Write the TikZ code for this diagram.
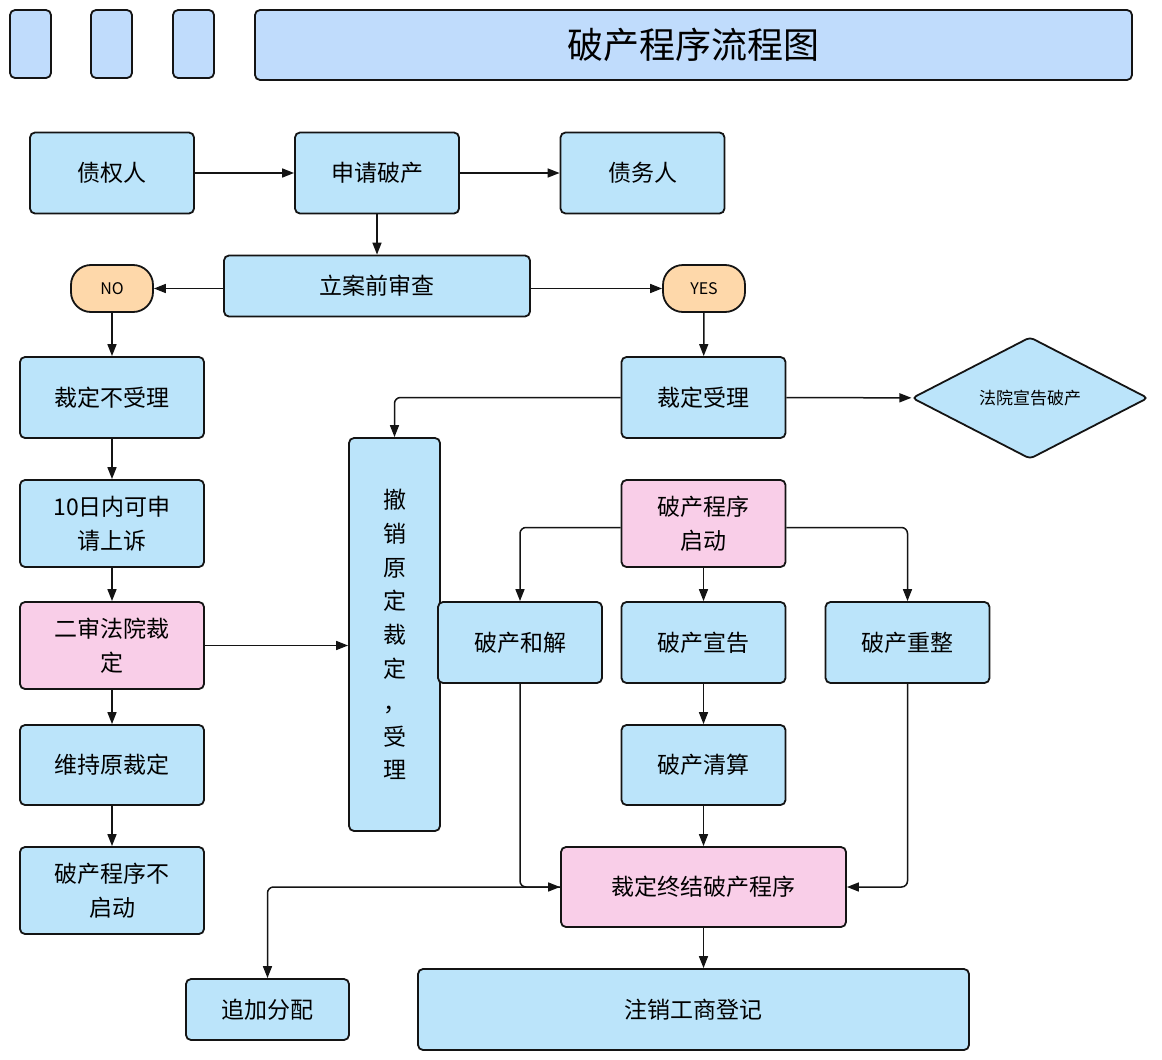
\documentclass[tikz,border=0pt]{standalone}
\usepackage{fontspec}
\setmainfont{Noto Sans CJK SC}
\usetikzlibrary{arrows.meta,shapes.geometric}
\definecolor{bluebox}{RGB}{187,228,250}
\definecolor{topbox}{RGB}{192,220,252}
\definecolor{pinkbox}{RGB}{249,206,232}
\definecolor{orangebox}{RGB}{254,216,170}
\definecolor{edgec}{RGB}{20,20,20}
\tikzset{
  base/.style={draw=edgec, line width=1.8pt, rounded corners=5pt, inner sep=0pt, align=center,
    font=\fontsize{23}{34}\selectfont},
  bbox/.style={base, fill=bluebox, minimum width=164pt, minimum height=81pt},
  pbox/.style={base, fill=pinkbox, minimum width=164pt, minimum height=87pt},
  tbox/.style={base, fill=topbox},
  pill/.style={draw=edgec, line width=1.8pt, rounded corners=20pt, fill=orangebox, minimum width=82pt,
    minimum height=47pt, inner sep=0pt, font=\fontsize{16}{18}\selectfont},
  arr/.style={draw=edgec, line width=1.5pt, -{Triangle[length=12pt,width=9pt]}},
}
\begin{document}
\begin{tikzpicture}[x=1pt,y=-1pt]
\useasboundingbox[fill=white] (0,0) rectangle (1162,1060);
% header
\node[tbox, minimum width=41pt, minimum height=68pt] (t1) at (30.5,44) {};
\node[tbox, minimum width=41pt, minimum height=68pt] (t2) at (111.5,44) {};
\node[tbox, minimum width=41pt, minimum height=68pt] (t3) at (193.5,44) {};
\node[tbox, minimum width=877pt, minimum height=70pt, font=\fontsize{36}{40}\selectfont] (title) at (693.5,45) {破产程序流程图};
% nodes
\node[bbox] (zqr) at (112,173) {债权人};
\node[bbox] (sqpc) at (377,173) {申请破产};
\node[bbox] (zwr) at (642.5,173) {债务人};
\node[bbox, minimum width=306pt, minimum height=61pt] (la) at (377,286) {立案前审查};
\node[pill] (no) at (112,288.5) {NO};
\node[pill] (yes) at (704,288.5) {YES};
\node[bbox, minimum width=184pt] (bsl) at (112,397.5) {裁定不受理};
\node[bbox] (sl) at (703.5,397.5) {裁定受理};
\node[draw=edgec, line width=1.8pt, diamond, fill=bluebox, minimum width=236pt, minimum height=122pt,
  inner sep=0pt, rounded corners=4pt, font=\fontsize{17}{20}\selectfont] (fy) at (1030,398) {法院宣告破产};
\node[bbox, minimum width=184pt, minimum height=87pt] (sr) at (112,523.5) {10日内可申\\请上诉};
\node[bbox, minimum width=91pt, minimum height=393pt, font=\fontsize{23}{33.8}\selectfont] (cx) at (394.5,634.5)
  {撤\\销\\原\\定\\裁\\定\\，\\受\\理};
\node[pbox] (qd) at (703.5,523.5) {破产程序\\启动};
\node[pbox, minimum width=184pt] (es) at (112,645.5) {二审法院裁\\定};
\node[bbox] (hj) at (520,642.5) {破产和解};
\node[bbox] (xg) at (703.5,642.5) {破产宣告};
\node[bbox] (cz) at (907.5,642.5) {破产重整};
\node[bbox, minimum width=184pt, minimum height=80pt] (wc) at (112,765) {维持原裁定};
\node[bbox, minimum height=80pt] (qs) at (703.5,765) {破产清算};
\node[bbox, minimum width=184pt, minimum height=87pt] (bqd) at (112,890.5) {破产程序不\\启动};
\node[pbox, minimum width=285pt, minimum height=80pt] (zj) at (703.5,887) {裁定终结破产程序};
\node[bbox, minimum width=163pt, minimum height=61pt] (zf) at (267.5,1009.5) {追加分配};
\node[bbox, minimum width=551pt, minimum height=81pt] (zx) at (693.5,1009.5) {注销工商登记};
% connectors
\draw[arr] (zqr) -- (sqpc);
\draw[arr] (sqpc) -- (zwr);
\draw[arr] (sqpc.south) -- (sqpc.south |- la.north);
\draw[arr] (la.west |- no.east) -- (no.east);
\draw[arr] (la.east |- yes.west) -- (yes.west);
\draw[arr] (no) -- (bsl);
\draw[arr] (yes) -- (sl);
\draw[arr] (sl) -- (fy);
\draw[arr, rounded corners=6pt] (sl.west) -| (cx.north);
\draw[arr] (bsl) -- (sr);
\draw[arr] (sr) -- (es);
\draw[arr] (es.east) -- (cx.west |- es.east);
\draw[arr] (es) -- (wc);
\draw[arr] (wc) -- (bqd);
\draw[arr, rounded corners=6pt] ([yshift=-4pt]qd.west) -| (hj.north);
\draw[arr, rounded corners=6pt] ([yshift=-4pt]qd.east) -| (cz.north);
\draw[arr] (qd) -- (xg);
\draw[arr] (xg) -- (qs);
\draw[arr] (qs) -- (zj);
\draw[arr, rounded corners=6pt] (hj.south) |- (zj.west);
\draw[arr, rounded corners=6pt] (cz.south) |- (zj.east);
\draw[arr, rounded corners=6pt] (zj.west) -| (zf.north);
\draw[arr] (zj) -- (zj.south |- zx.north);
\end{tikzpicture}
\end{document}
